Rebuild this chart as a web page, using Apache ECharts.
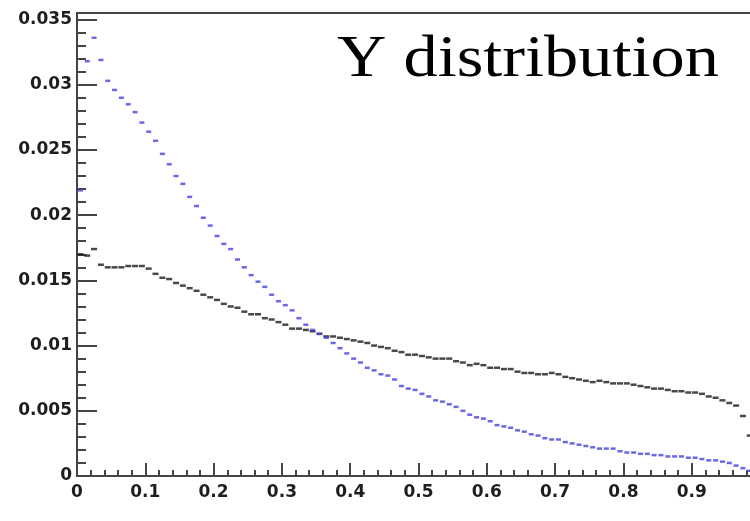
<!DOCTYPE html>
<html>
<head>
<meta charset="utf-8">
<script src="https://cdn.jsdelivr.net/npm/echarts@6/dist/echarts.min.js"></script>
<style>
  html, body { margin: 0; padding: 0; background: #fff; }
  #chart { width: 750px; height: 521px; }
</style>
</head>
<body>
<div id="chart"></div>
<script>
// 100 bins of width 0.01 over [0, 1]
var binWidth = 0.01;

// black histogram (bin contents)
var blackVals = [
  0.0170, 0.0169, 0.0174, 0.0162, 0.0160, 0.0160, 0.0160, 0.0161, 0.0161, 0.0161,
  0.0159, 0.0155, 0.0152, 0.0151, 0.0148, 0.0146, 0.0144, 0.0142, 0.0139, 0.0137,
  0.0135, 0.0132, 0.0130, 0.0129, 0.0126, 0.0124, 0.0124, 0.0121, 0.0120, 0.0118,
  0.0116, 0.0113, 0.0113, 0.0112, 0.0111, 0.0109, 0.0107, 0.0107, 0.0106, 0.0105,
  0.0104, 0.0103, 0.0102, 0.0100, 0.0099, 0.0098, 0.0096, 0.0095, 0.0093, 0.0093,
  0.0092, 0.0091, 0.0090, 0.0090, 0.0090, 0.0088, 0.0087, 0.0085, 0.0086, 0.0085,
  0.0083, 0.0083, 0.0082, 0.0082, 0.0080, 0.0079, 0.0079, 0.0078, 0.0078, 0.0079,
  0.0078, 0.0076, 0.0075, 0.0074, 0.0073, 0.0072, 0.0073, 0.0072, 0.0071, 0.0071,
  0.0071, 0.0070, 0.0069, 0.0068, 0.0067, 0.0067, 0.0066, 0.0065, 0.0065, 0.0064,
  0.0064, 0.0063, 0.0061, 0.0060, 0.0058, 0.0056, 0.0054, 0.0046, 0.0031, 0.0010
];

// blue histogram
var blueVals = [
  0.0219, 0.0318, 0.0336, 0.0319, 0.0303, 0.0296, 0.0290, 0.0285, 0.0279, 0.0271,
  0.0264, 0.0257, 0.0247, 0.0239, 0.0230, 0.0224, 0.0214, 0.0207, 0.0198, 0.0192,
  0.0184, 0.0178, 0.0174, 0.0166, 0.0160, 0.0154, 0.0149, 0.0145, 0.0139, 0.0134,
  0.0131, 0.0127, 0.0121, 0.0116, 0.0112, 0.0109, 0.0106, 0.0102, 0.0098, 0.0094,
  0.0090, 0.0087, 0.0083, 0.0081, 0.0078, 0.0077, 0.0074, 0.0069, 0.0067, 0.0066,
  0.0063, 0.0061, 0.0058, 0.0057, 0.0055, 0.0053, 0.0050, 0.0047, 0.0045, 0.0044,
  0.0042, 0.0039, 0.0038, 0.0037, 0.0035, 0.0034, 0.0032, 0.0031, 0.0029, 0.0028,
  0.0028, 0.0026, 0.0025, 0.0024, 0.0023, 0.0022, 0.0021, 0.0021, 0.0021, 0.0019,
  0.0018, 0.0018, 0.0017, 0.0017, 0.0016, 0.0016, 0.0015, 0.0015, 0.0015, 0.0014,
  0.0014, 0.0013, 0.0012, 0.0012, 0.0011, 0.0010, 0.0008, 0.0006, 0.0004, 0.0002
];

var titleText = "Y distribution";

function toPoints(vals) {
  var out = [];
  for (var i = 0; i < vals.length; i++) {
    out.push([(i + 0.5) * binWidth, vals[i]]);
  }
  return out;
}

var axisColor = "#454545";
var labelFont = { color: "#1e1e1e", fontFamily: "DejaVu Sans", fontWeight: "bold", fontSize: 17 };

var option = {
  backgroundColor: "#fff",
  animation: false,
  grid: {
    left: 77, top: 13, right: -10, bottom: 45,
    show: true, borderColor: axisColor, borderWidth: 2,
    outerBoundsMode: "none"
  },
  graphic: [
    {
      type: "text",
      x: 337, y: 30,
      scaleX: 1.14,
      style: { text: titleText, font: '60px "Liberation Serif"', fill: "#000" }
    }
  ],
  xAxis: {
    type: "value", min: 0, max: 1, interval: 0.1,
    axisLine: { show: true, onZero: false, lineStyle: { color: axisColor, width: 2 } },
    axisTick: { show: true, inside: true, length: 13, lineStyle: { color: axisColor, width: 2 } },
    minorTick: { show: true, splitNumber: 5, length: 6, lineStyle: { color: axisColor, width: 2 } },
    splitLine: { show: false },
    axisLabel: Object.assign({ margin: 8, showMaxLabel: false }, labelFont)
  },
  yAxis: {
    type: "value", min: 0, max: 0.0355, interval: 0.005,
    axisLine: { show: true, lineStyle: { color: axisColor, width: 2 } },
    axisTick: { show: true, inside: true, length: 20, lineStyle: { color: axisColor, width: 2 } },
    minorTick: { show: true, splitNumber: 5, length: 9, lineStyle: { color: axisColor, width: 2 } },
    splitLine: { show: false },
    axisLabel: Object.assign({ margin: 5, showMaxLabel: false }, labelFont)
  },
  series: [
    {
      name: "black", type: "scatter",
      data: toPoints(blackVals),
      symbol: "rect", symbolSize: [6, 2.5],
      itemStyle: { color: "#1a1a1a" },
      clip: true
    },
    {
      name: "blue", type: "scatter",
      data: toPoints(blueVals),
      symbol: "rect", symbolSize: [5, 2.5],
      itemStyle: { color: "#4444dd" },
      clip: true
    }
  ]
};

var chartObj = echarts.init(document.getElementById("chart"));
chartObj.setOption(option);
window.addEventListener("resize", function () { chartObj.resize(); });
</script>
</body>
</html>
